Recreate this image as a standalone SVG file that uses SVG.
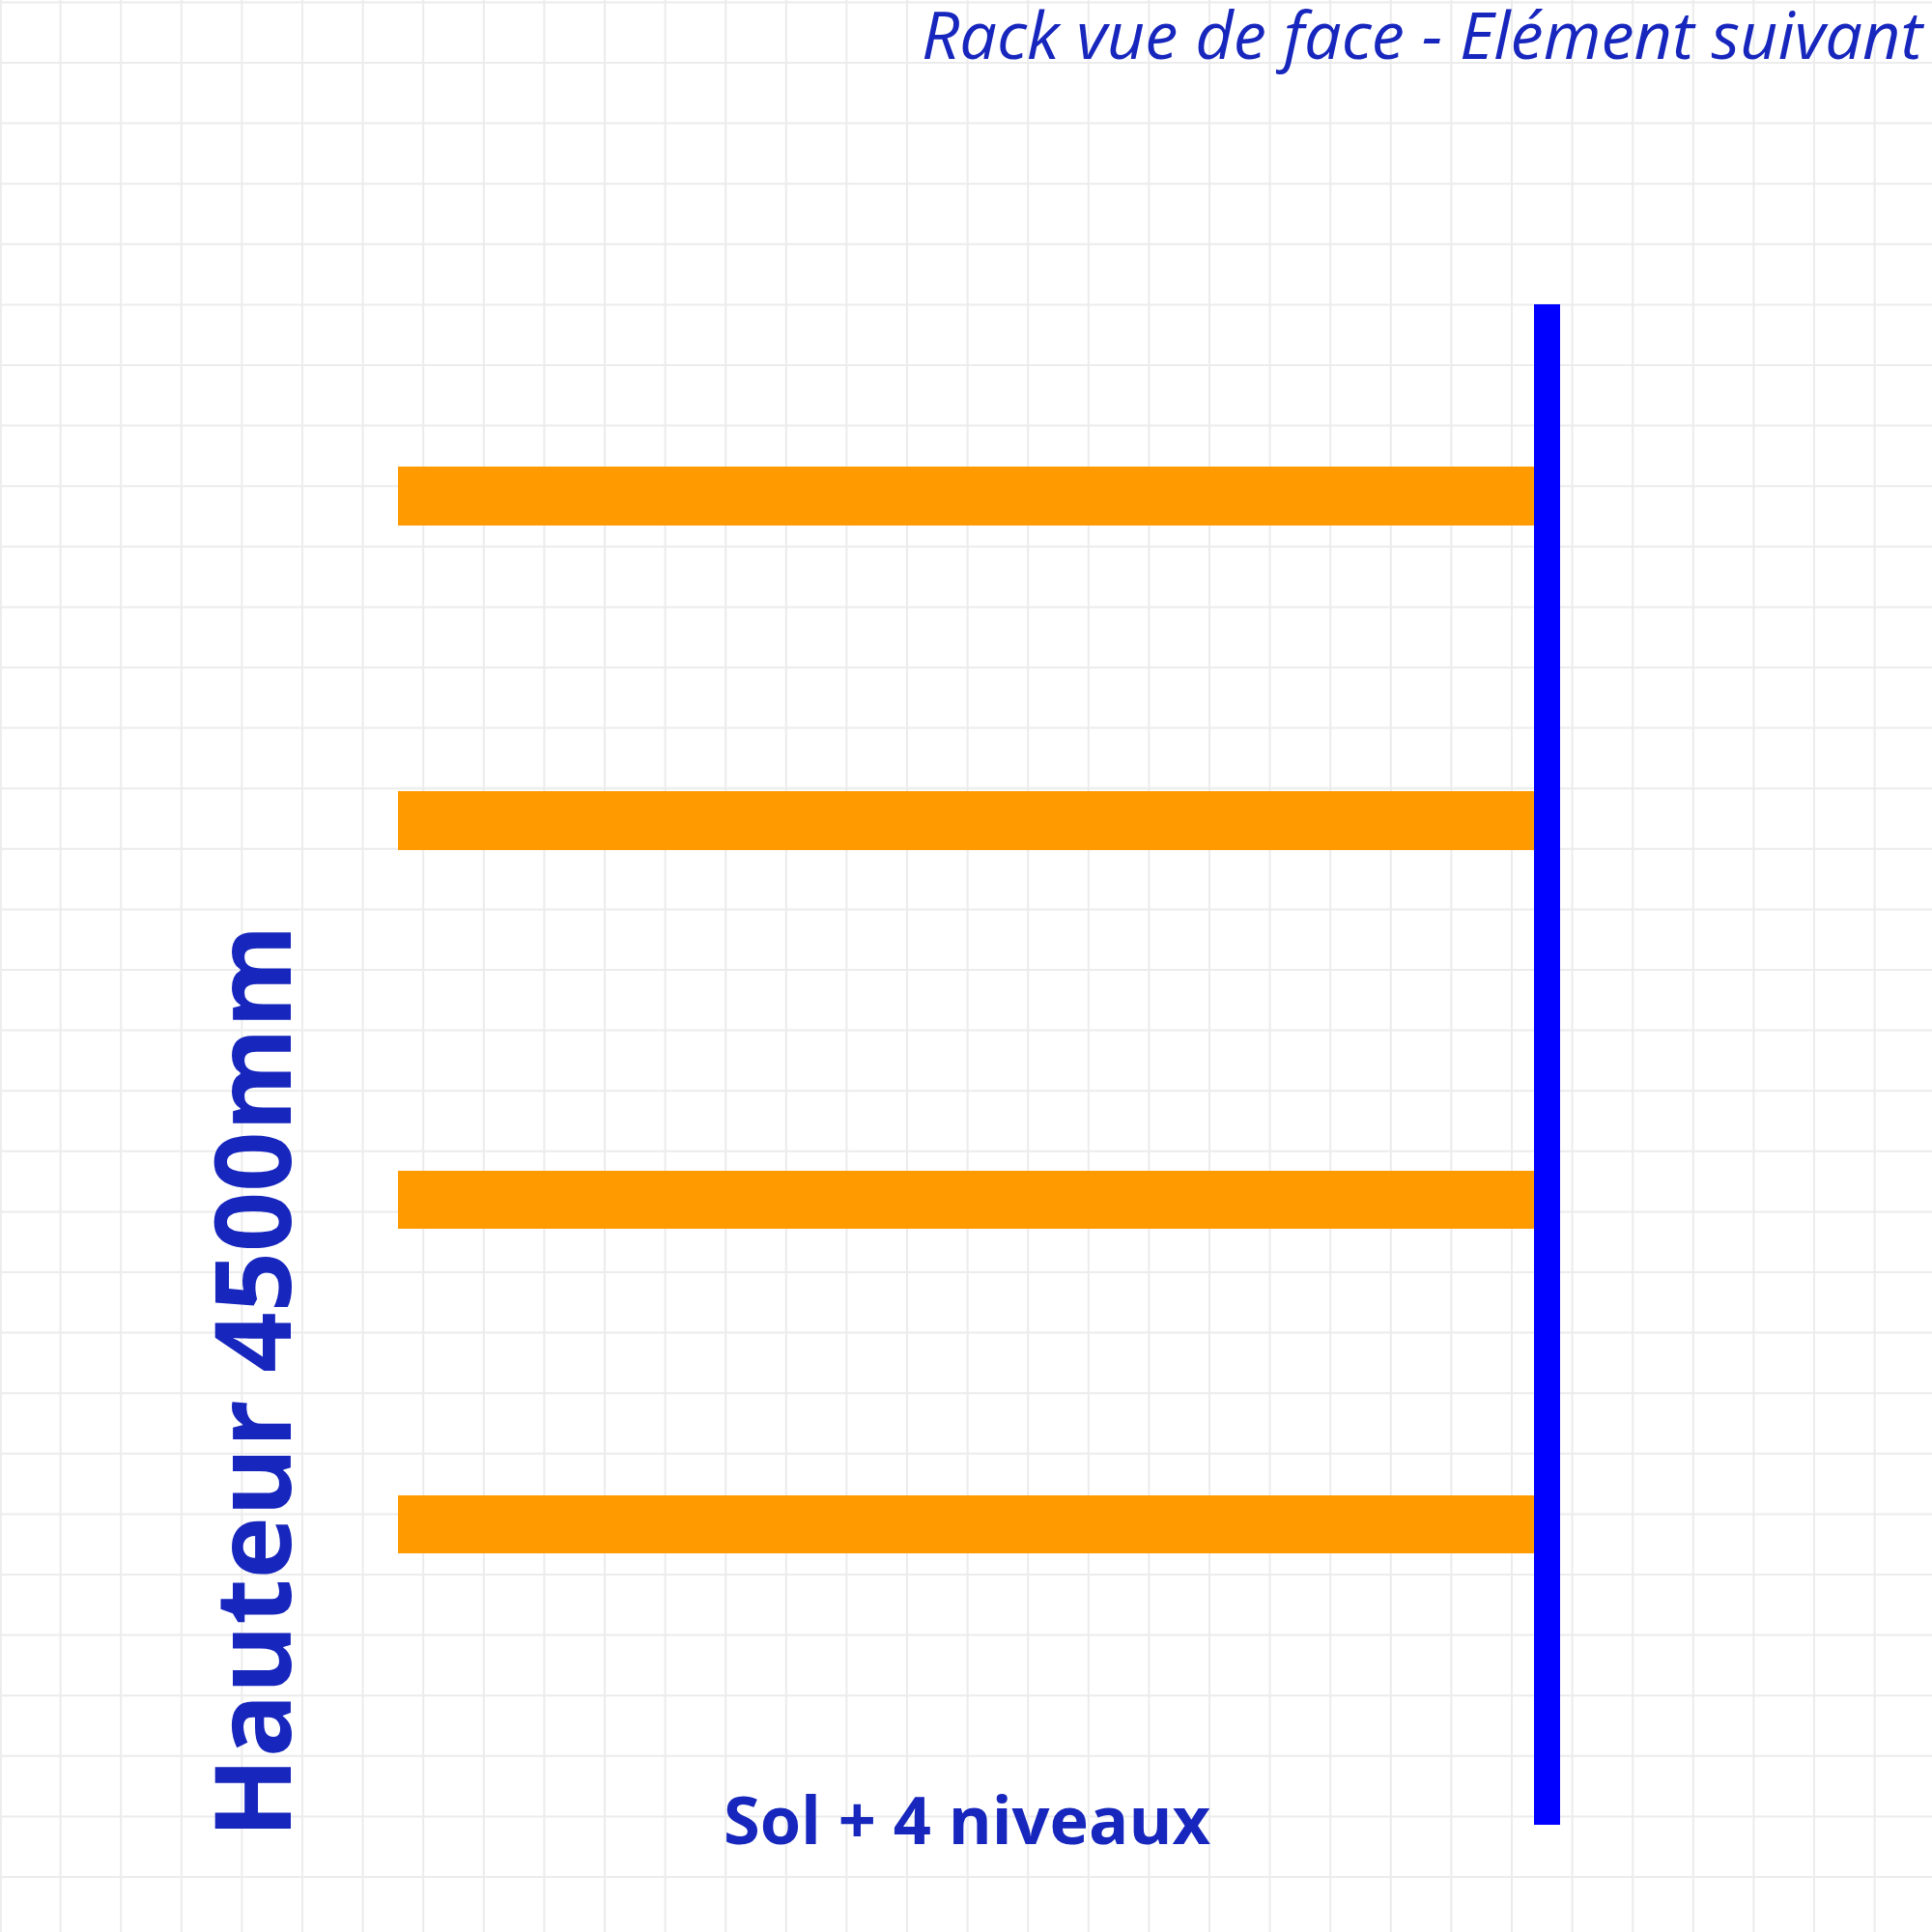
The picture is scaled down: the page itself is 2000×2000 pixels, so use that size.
<svg xmlns="http://www.w3.org/2000/svg" width="2000" height="2000" viewBox="0 0 2000 2000">
<style>
.grid{stroke:#ececec;stroke-width:2;fill:none}
.beam{fill:#ff9a00}
.upright{fill:#0000ff}
.lbl{fill:#1726bd;font-family:"Open Sans","Noto Sans","DejaVu Sans",sans-serif}
</style>
<rect x="0" y="0" width="2000" height="2000" fill="#ffffff"/>
<g id="grid" class="grid">
<path d="M0.8 0V2000M62.6 0V2000M125.2 0V2000M187.8 0V2000M250.4 0V2000M313 0V2000M375.6 0V2000M438.2 0V2000M500.8 0V2000M563.4 0V2000M626 0V2000M688.6 0V2000M751.2 0V2000M813.8 0V2000M876.4 0V2000M939 0V2000M1001.6 0V2000M1064.2 0V2000M1126.8 0V2000M1189.4 0V2000M1252 0V2000M1314.6 0V2000M1377.2 0V2000M1439.8 0V2000M1502.4 0V2000M1565 0V2000M1627.6 0V2000M1690.2 0V2000M1752.8 0V2000M1815.4 0V2000M1878 0V2000M1940.6 0V2000"/>
<path d="M0 2.4H2000M0 65H2000M0 127.6H2000M0 190.2H2000M0 252.8H2000M0 315.4H2000M0 378H2000M0 440.6H2000M0 503.2H2000M0 565.8H2000M0 628.4H2000M0 691H2000M0 753.6H2000M0 816.2H2000M0 878.8H2000M0 941.4H2000M0 1004H2000M0 1066.6H2000M0 1129.2H2000M0 1191.8H2000M0 1254.4H2000M0 1317H2000M0 1379.6H2000M0 1442.2H2000M0 1504.8H2000M0 1567.4H2000M0 1630H2000M0 1692.6H2000M0 1755.2H2000M0 1817.8H2000M0 1880.4H2000M0 1943H2000"/>
</g>
<g id="beams">
<rect id="beam4" class="beam" x="412" y="483" width="1177" height="61"/>
<rect id="beam3" class="beam" x="412" y="819" width="1177" height="61"/>
<rect id="beam2" class="beam" x="412" y="1212" width="1177" height="60"/>
<rect id="beam1" class="beam" x="412" y="1548" width="1177" height="60"/>
</g>
<rect id="upright" class="upright" x="1588" y="315" width="27" height="1574"/>
<text id="title" class="lbl" x="1990" y="61" font-size="68.5" font-style="italic" text-anchor="end">Rack vue de face - Elément suivant</text>
<text id="hauteur" class="lbl" font-size="109" font-weight="bold" text-anchor="middle" transform="translate(301 1430) rotate(-90)">Hauteur 4500mm</text>
<text id="niveaux" class="lbl" x="1001" y="1909" font-size="68.5" font-weight="bold" text-anchor="middle">Sol + 4 niveaux</text>
</svg>
